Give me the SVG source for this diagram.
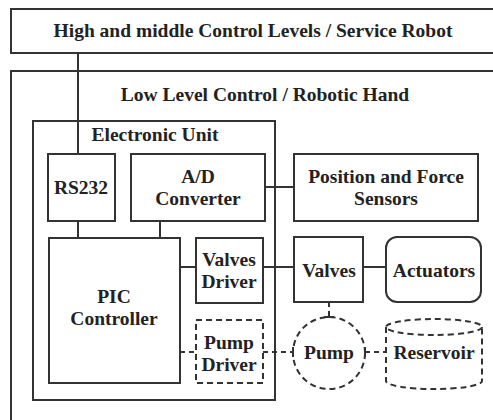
<svg xmlns="http://www.w3.org/2000/svg" width="493" height="420" viewBox="0 0 493 420" font-family="'Liberation Serif', 'DejaVu Serif', serif">
<style>
.box{fill:none;stroke:#333;stroke-width:2}
.dash{fill:none;stroke:#333;stroke-width:2;stroke-dasharray:6 4}
.ln{fill:none;stroke:#333;stroke-width:2}
.dln{fill:none;stroke:#333;stroke-width:2;stroke-dasharray:5 4}
text{font-family:'Liberation Serif', serif;font-weight:bold;font-size:19.5px;fill:#222;text-anchor:middle}
</style>
<rect width="493" height="420" fill="#fff"/>
<g id="high-level">
<rect class="box" x="11" y="9" width="500" height="44"/>
<text x="253" y="37">High and middle Control Levels / Service Robot</text>
</g>
<g id="low-level">
<rect class="box" x="11" y="71" width="500" height="380"/>
<text x="265" y="101">Low Level Control / Robotic Hand</text>
</g>
<g id="electronic-unit">
<rect class="box" x="33" y="121" width="242" height="279"/>
<text x="155" y="141">Electronic Unit</text>
</g>
<g id="rs232">
<rect class="box" x="48" y="154" width="67" height="67"/>
<text x="81" y="194">RS232</text>
</g>
<g id="ad-converter">
<rect class="box" x="131" y="154" width="134" height="67"/>
<text x="198" y="183">A/D</text>
<text x="198" y="205">Converter</text>
</g>
<g id="sensors">
<rect class="box" x="294" y="154" width="184" height="67"/>
<text x="386" y="183">Position and Force</text>
<text x="386" y="205">Sensors</text>
</g>
<g id="pic">
<rect class="box" x="49" y="238" width="131" height="145"/>
<text x="114" y="303">PIC</text>
<text x="114" y="325">Controller</text>
</g>
<g id="valves-driver">
<rect class="box" x="196" y="238" width="67" height="65"/>
<text x="229" y="266">Valves</text>
<text x="229" y="288">Driver</text>
</g>
<g id="pump-driver">
<rect class="dash" x="196" y="320" width="67" height="63"/>
<text x="229" y="349">Pump</text>
<text x="229" y="371">Driver</text>
</g>
<g id="valves">
<rect class="box" x="294" y="237" width="69" height="65"/>
<text x="329" y="277">Valves</text>
</g>
<g id="actuators">
<rect class="box" x="386" y="237" width="95" height="65" rx="11" ry="11"/>
<text x="434" y="277">Actuators</text>
</g>
<g id="pump">
<circle class="dash" cx="329" cy="353" r="36"/>
<text x="329" y="359">Pump</text>
</g>
<g id="reservoir">
<path class="dash" d="M386,327 L386,381 A48,8 0 0 0 482,381 L482,327"/>
<ellipse class="dash" cx="434" cy="327" rx="48" ry="8"/>
<text x="434" y="359">Reservoir</text>
</g>
<g id="connectors">
<line class="ln" x1="78" y1="53" x2="78" y2="154"/>
<line class="ln" x1="78" y1="221" x2="78" y2="238"/>
<line class="ln" x1="160" y1="221" x2="160" y2="238"/>
<line class="ln" x1="265" y1="187" x2="294" y2="187"/>
<line class="ln" x1="180" y1="267" x2="196" y2="267"/>
<line class="ln" x1="263" y1="267" x2="294" y2="267"/>
<line class="ln" x1="363" y1="267" x2="386" y2="267"/>
<line class="dln" x1="180" y1="352" x2="196" y2="352"/>
<line class="dln" x1="263" y1="352" x2="293" y2="352"/>
<line class="ln" x1="293" y1="347" x2="293" y2="357"/>
<line class="dln" x1="365" y1="352" x2="386" y2="352"/>
<line class="ln" x1="365" y1="347" x2="365" y2="357"/>
<line class="dln" x1="329" y1="302" x2="329" y2="317"/>
<line class="ln" x1="324" y1="317" x2="334" y2="317"/>
</g>
</svg>
